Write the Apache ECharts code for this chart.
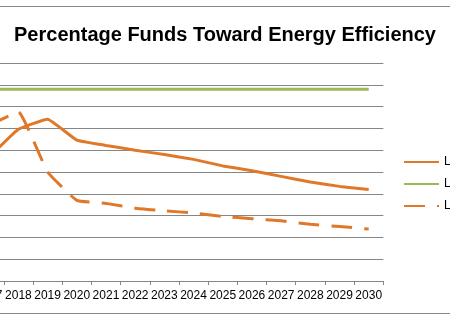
<!DOCTYPE html>
<html>
<head>
<meta charset="utf-8">
<script src="https://cdn.jsdelivr.net/npm/echarts@6/dist/echarts.min.js"></script>
<style>
  html, body { margin: 0; padding: 0; background: #fff; overflow: hidden; width: 450px; height: 321px; }
  /* the plot area starts left of the visible page, so the canvas is wider and shifted */
  #chart { position: absolute; left: -50px; top: 0; width: 550px; height: 321px; }
</style>
</head>
<body>
<div id="chart"></div>
<script>
// Years on the category axis
const years = ['2017', '2018', '2019', '2020', '2021', '2022', '2023', '2024',
               '2025', '2026', '2027', '2028', '2029', '2030'];

// Series names shown in the legend
const seriesNames = ['LBNL Medium', 'Legislated Target', 'LBNL Low'];

// Percentage of funds per year
const mediumCase = [28.4, 34.8, 37.1, 32.3, 31.1, 30.0, 29.0, 27.9, 26.4, 25.3, 24.0, 22.7, 21.7, 21.0];
const targetLine = [44, 44, 44, 44, 44, 44, 44, 44, 44, 44, 44, 44, 44, 44];
const lowCase    = [35.7, 38.8, 25.0, 18.5, 17.8, 16.7, 16.1, 15.6, 14.8, 14.3, 13.8, 13.0, 12.5, 11.9];

// Value axis range
const yMin = 0, yMax = 50, yStep = 5;

const ORANGE = '#E0782A';
const GREEN = '#9BBB59';
const GRID = '#868686';
const FONT = '"Liberation Sans", Arial, sans-serif';

const chart = echarts.init(document.getElementById('chart'), null, { renderer: 'canvas' });

chart.setOption({
  animation: false,
  backgroundColor: '#fff',
  title: {
    text: 'Percentage Funds Toward Energy Efficiency',
    left: 'center',
    top: 20,
    textStyle: {
      fontFamily: FONT,
      fontWeight: 'bold',
      fontSize: 20,
      color: '#000'
    }
  },
  graphic: [{
    type: 'rect',
    silent: true,
    z: -1,
    shape: { x: 0, y: 6.5, width: 550, height: 307 },
    style: { fill: 'none', stroke: '#888', lineWidth: 1 }
  }],
  legend: {
    orient: 'vertical',
    left: 448,
    top: 151,
    itemWidth: 35,
    itemHeight: 14,
    itemGap: 10,
    itemStyle: { opacity: 0, borderWidth: 0 },
    textStyle: { fontFamily: FONT, fontSize: 12, color: '#000' },
    data: seriesNames
  },
  grid: {
    left: 24.6,
    right: 116.7,
    top: 63,
    bottom: 40
  },
  xAxis: {
    type: 'category',
    data: years,
    boundaryGap: true,
    axisLine: { lineStyle: { color: GRID, width: 1 } },
    axisTick: { show: true, length: 4, lineStyle: { color: GRID } },
    axisLabel: {
      interval: 0,
      margin: 9,
      fontFamily: FONT,
      fontSize: 12,
      color: '#000'
    }
  },
  yAxis: {
    type: 'value',
    min: yMin,
    max: yMax,
    interval: yStep,
    axisLine: { show: false },
    axisTick: { show: false },
    axisLabel: { show: false },
    splitLine: { lineStyle: { color: GRID, width: 1 } }
  },
  series: [
    {
      name: seriesNames[0],
      type: 'line',
      data: mediumCase,
      symbol: 'none',
      smooth: 0.1,
      lineStyle: { color: ORANGE, width: 3 },
      itemStyle: { color: ORANGE }
    },
    {
      name: seriesNames[1],
      type: 'line',
      data: targetLine,
      symbol: 'none',
      lineStyle: { color: GREEN, width: 3 },
      itemStyle: { color: GREEN }
    },
    {
      name: seriesNames[2],
      type: 'line',
      data: lowCase,
      symbol: 'none',
      smooth: 0.1,
      lineStyle: { color: ORANGE, width: 3, type: [21, 12], cap: 'butt' },
      itemStyle: { color: ORANGE }
    }
  ]
});
</script>
</body>
</html>
